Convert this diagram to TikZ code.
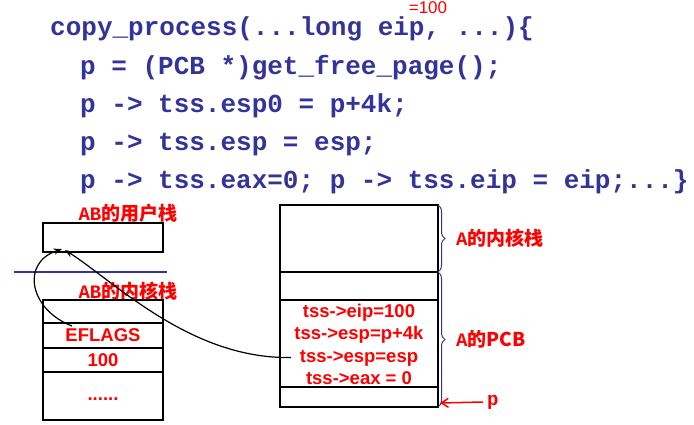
\documentclass[tikz,border=0pt]{standalone}
\usepackage{fontspec}
\setmainfont{Liberation Sans}
\newfontfamily\codefont{Liberation Mono}
\newfontfamily\cjk{Noto Sans CJK SC}
\usetikzlibrary{arrows.meta,positioning,calc,decorations.pathreplacing}
\definecolor{codeblue}{HTML}{333399}
\definecolor{hired}{HTML}{FF0000}

\begin{document}
\begin{tikzpicture}[x=1pt,y=-1pt,>=Stealth,
  codeline/.style={anchor=base west,inner sep=0pt,text=codeblue,
    font=\codefont\bfseries\fontsize{26}{30}\selectfont},
  cell/.style={draw,line width=1.5pt,inner sep=0pt,outer sep=0pt,text=hired,
    font=\bfseries\fontsize{18.5}{22}\selectfont},
  tag/.style={text=hired,inner sep=0pt,font=\bfseries\fontsize{19}{22}\selectfont},
  tssline/.style={text=hired,inner sep=2.5pt,text height=13pt,text depth=4pt,
    font=\bfseries\fontsize{18.5}{22}\selectfont},
  bracket/.style={codeblue,line width=1pt,decorate,decoration={brace,amplitude=7pt}}]
\useasboundingbox (0,0) rectangle (694,425);
% code
\node[codeline] (c1) at (50,36) {copy\_process(...long eip, ...)\{};
\node[codeline] (c2) at (80,75) {p = (PCB *)get\_free\_page();};
\node[codeline] (c3) at (80,113) {p -> tss.esp0 = p+4k;};
\node[codeline] (c4) at (80,151) {p -> tss.esp = esp;};
\node[codeline] (c5) at (80,189) {p -> tss.eax=0; p -> tss.eip = eip;...\}};
\node[text=hired,inner sep=0pt,font=\fontsize{17}{20}\selectfont] (eipVal) at (428,7.5) {=100};
% AB stacks
\node[tag] (usTitle) at (128,213) {\codefont AB\cjk 的用户栈};
\node[cell,minimum width=120pt,minimum height=29pt,anchor=north west] (us) at (43,223) {};
\draw[codeblue,line width=1.5pt] (14,272) -- (167,272);
\node[tag] (ksTitle) at (128,291) {\codefont AB\cjk 的内核栈};
\node[cell,minimum width=120pt,minimum height=23pt,anchor=north west] (ks0) at (43,300) {};
\node[cell,minimum width=120pt,minimum height=25pt,below=0pt of ks0] (eflags) {EFLAGS};
\node[cell,minimum width=120pt,minimum height=24pt,below=0pt of eflags] (ret) {100};
\node[cell,minimum width=120pt,minimum height=48pt,below=0pt of ret] (more) {\strut......};
% A: kernel stack + PCB
\node[cell,minimum width=158pt,minimum height=67pt,anchor=north west] (pk) at (280,205) {};
\node[cell,minimum width=158pt,minimum height=28pt,below=0pt of pk] (pgap) {};
\node[cell,minimum width=158pt,minimum height=87pt,below=0pt of pgap] (tss) {};
\node[cell,minimum width=158pt,minimum height=20pt,below=0pt of tss] (pbot) {};
\node[tssline,anchor=north] (tEip) at ([yshift=-1.5pt]tss.north) {tss->eip=100};
\node[tssline,below=0pt of tEip] (tEsp0) {tss->esp=p+4k};
\node[tssline,below=0pt of tEsp0] (tEsp) {tss->esp=esp};
\node[tssline,below=0pt of tEsp] (tEax) {tss->eax = 0};
\draw[bracket] (pk.north east) -- (pk.south east);
\draw[bracket] (pgap.north east) -- (pbot.south east);
\node[tag,anchor=west] (pkLbl) at ([xshift=18pt]pk.east) {\codefont A\cjk 的内核栈};
\node[tag,anchor=west] (pcbLbl) at ($(pgap.north east)!.5!(pbot.south east)+(18,0)$) {\codefont A\cjk 的PCB};
\node[tag,anchor=west] (pLbl) at (487,402) {\codefont p};
\draw[-{Straight Barb[length=7pt,width=9pt]},hired,line width=1.5pt]
  ([xshift=-4pt]pLbl.west) -- ([xshift=2pt,yshift=4pt]pbot.south east);
% returns to user stack
\draw[->,line width=1.2pt] ([xshift=29pt,yshift=-3pt]eflags.north west)
  .. controls +(-42,-16) and +(-42,14) .. ([xshift=19pt,yshift=3pt]us.south west);
\draw[->,line width=1.2pt] ([xshift=-6pt]tEsp.west)
  .. controls +(-100,2) and +(50,32) .. ([xshift=22pt,yshift=2pt]us.south west);
\end{tikzpicture}
\end{document}
